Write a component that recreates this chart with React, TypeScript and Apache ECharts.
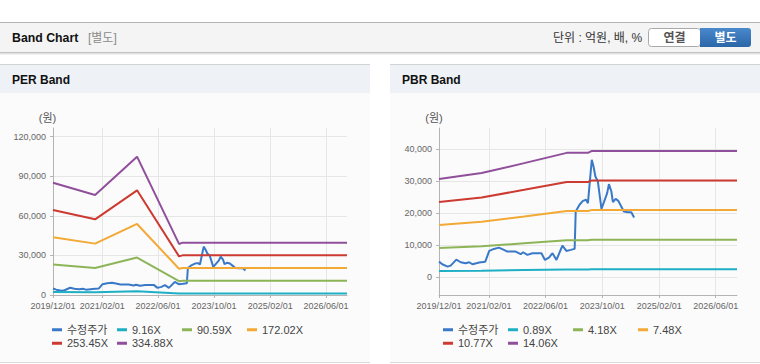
import React, { useEffect, useRef } from 'react';
import * as echarts from 'echarts';

const FONT = "Arial, 'Liberation Sans', 'Noto Sans CJK KR', sans-serif";

// 수정주가 (adjusted price), same series for both charts
const priceDates = [
  '2019-12-01', '2019-12-29', '2020-02-13', '2020-03-10', '2020-04-28', '2020-06-04', '2020-07-16',
  '2020-08-16', '2020-09-13', '2020-11-10', '2021-01-01', '2021-02-04', '2021-03-16', '2021-04-28',
  '2021-06-10', '2021-07-10', '2021-09-19', '2021-11-01', '2021-11-22', '2021-12-28', '2022-02-10',
  '2022-04-28', '2022-05-28', '2022-07-01', '2022-08-01', '2022-09-04', '2022-10-25', '2022-11-28',
  '2023-01-04', '2023-02-07', '2023-02-16', '2023-03-22', '2023-04-19', '2023-05-16', '2023-06-01',
  '2023-06-16', '2023-07-04', '2023-07-19', '2023-08-04', '2023-08-25', '2023-09-25', '2023-10-16',
  '2023-11-13', '2023-11-28', '2023-12-19', '2024-01-01', '2024-01-25', '2024-02-16', '2024-03-13',
  '2024-04-04', '2024-05-10', '2024-06-07', '2024-07-01',
];
const priceValues = [
  4875, 4060, 3310, 3625, 5500, 4690, 4375,
  4690, 4060, 4580, 4875, 8220, 8840, 9250,
  8540, 8000, 8000, 7190, 7810, 6980, 7500,
  7500, 5400, 6150, 7500, 5400, 9880, 8220,
  8540, 8850, 20500, 22700, 23840, 24160, 23120,
  29370, 36650, 34560, 31440, 29880, 21340, 23430,
  26250, 29060, 26750, 23430, 24470, 23840, 22070,
  20500, 20300, 20300, 18630,
];

// PER band
const perBandDates = ['2019-12-01', '2020-12-01', '2021-12-01', '2022-12-01', '2023-01-01', '2026-12-01'];
const perLabels = ['9.16X', '90.59X', '172.02X', '253.45X', '334.88X'];
const per916 = [2329, 2074, 2868, 1059, 1086, 1086];
const per9059 = [23037, 20511, 28364, 10472, 10740, 10740];
const per17202 = [43745, 38948, 53860, 19886, 20393, 20393];
const per25345 = [64452, 57385, 79356, 29299, 30046, 30046];
const per33488 = [85150, 75830, 104850, 38710, 39700, 39700];

// PBR band
const pbrBandDates = ['2019-12-01', '2020-12-01', '2021-12-01', '2022-12-01', '2023-06-01', '2023-07-01', '2026-12-01'];
const pbrLabels = ['0.89X', '4.18X', '7.48X', '10.77X', '14.06X'];
const pbr089 = [1938, 2057, 2253, 2456, 2456, 2492, 2492];
const pbr418 = [9104, 9662, 10584, 11537, 11537, 11704, 11704];
const pbr748 = [16291, 17290, 18939, 20645, 20645, 20944, 20944];
const pbr1077 = [23457, 24895, 27270, 29725, 29725, 30156, 30156];
const pbr1406 = [30620, 32500, 35600, 38806, 38806, 39368, 39368];

// ticks
const xTickDates = ['2019-12-01', '2021-02-01', '2022-06-01', '2023-10-01', '2025-02-01', '2026-06-01'];
const xStart = '2019-12-01';
const xEnd = '2026-12-01';
const perYTicks = [0, 30000, 60000, 90000, 120000];
const pbrYTicks = [0, 10000, 20000, 30000, 40000];

const PRICE_NAME = '수정주가';
const priceColor = '#3a79c8';
const bandColors = ['#1eafc5', '#8db558', '#f2a935', '#cc3a31', '#904f9b'];

function ts(s: string): number {
  const [y, m, d] = s.split('-').map(Number);
  return Date.UTC(y, m - 1, d);
}
function fmtDate(v: number): string {
  const d = new Date(v);
  const p = (n: number) => String(n).padStart(2, '0');
  return `${d.getUTCFullYear()}/${p(d.getUTCMonth() + 1)}/${p(d.getUTCDate())}`;
}

const AXIS_COLOR = '#b4b4b4';
const SPLIT_COLOR = '#e6e6e6';

function xAxis(gi: number) {
  const ticks = xTickDates.map(ts);
  return {
    type: 'value',
    gridIndex: gi,
    min: ts(xStart),
    max: ts(xEnd),
    axisLine: { show: true, onZero: false, lineStyle: { color: AXIS_COLOR, width: 1 } },
    axisTick: { show: true, length: 3, customValues: ticks, lineStyle: { color: AXIS_COLOR } },
    axisLabel: {
      customValues: ticks,
      formatter: (v: number) => fmtDate(v),
      fontSize: 9,
      color: '#666',
      margin: 6,
      fontFamily: FONT,
    },
    splitLine: { show: true, lineStyle: { color: SPLIT_COLOR, width: 1 } },
  };
}

function yAxis(gi: number, min: number, max: number, ticks: number[]) {
  return {
    type: 'value',
    gridIndex: gi,
    min,
    max,
    axisLine: { show: true, lineStyle: { color: AXIS_COLOR, width: 1 } },
    axisTick: { show: true, length: 3, customValues: ticks, lineStyle: { color: AXIS_COLOR } },
    axisLabel: {
      customValues: ticks,
      formatter: (v: number) => Number(v).toLocaleString('en-US'),
      fontSize: 9,
      color: '#666',
      margin: 7,
      fontFamily: FONT,
    },
    splitLine: { show: true, lineStyle: { color: SPLIT_COLOR, width: 1 } },
  };
}

function line(name: string, dates: string[], values: number[], color: string, gi: number) {
  return {
    type: 'line',
    name,
    xAxisIndex: gi,
    yAxisIndex: gi,
    data: dates.map((d, i) => [ts(d), values[i]]),
    showSymbol: false,
    symbol: 'none',
    color,
    lineStyle: { color, width: 2 },
    emphasis: { disabled: true },
    silent: true,
  };
}

function legend(left: number, names: string[]) {
  return {
    data: names,
    left,
    top: 323,
    width: 270,
    padding: 0,
    itemGap: 0,
    icon: 'rect',
    itemWidth: 10,
    itemHeight: 3,
    selectedMode: false,
    textStyle: { fontSize: 11, color: '#444', width: 50, lineHeight: 13.5, fontFamily: FONT },
  };
}

function txt(x: number, y: number, text: string, opts: any = {}) {
  return {
    type: 'text',
    x,
    y,
    silent: true,
    style: {
      text,
      fill: opts.fill || '#111',
      fontSize: opts.fontSize || 12,
      fontWeight: opts.fontWeight || 'normal',
      fontFamily: FONT,
      align: opts.align || 'left',
      verticalAlign: 'middle',
    },
  };
}
function rect(x: number, y: number, w: number, h: number, fill: any, extra: any = {}) {
  return {
    type: 'rect',
    silent: true,
    shape: { x, y, width: w, height: h, r: extra.r || 0 },
    style: { fill, stroke: extra.stroke || null, lineWidth: extra.lineWidth || 0 },
  };
}

function panel(x: number, title: string) {
  return [
    rect(x, 64, 370, 1, '#d2d2d2'),
    rect(x, 65, 370, 28, '#eef2f7'),
    rect(x, 93, 370, 269, '#fbfbfb'),
    rect(x, 362, 370, 1, '#dadada'),
    txt(x + 12, 79.5, title, { fontSize: 12, fontWeight: 'bold' }),
  ];
}

export default function App() {
  const ref = useRef<HTMLDivElement>(null);

  useEffect(() => {
    if (!ref.current) return;
    const chart = echarts.init(ref.current, null, { renderer: 'svg' });

    const blueGrad = new echarts.graphic.LinearGradient(0, 0, 0, 1, [
      { offset: 0, color: '#4a89cc' },
      { offset: 1, color: '#2a66a8' },
    ]);

    const graphics: any[] = [
      rect(0, 22, 760, 1, '#b4b4b4'),
      rect(0, 23, 760, 29, '#f4f4f4'),
      rect(0, 52, 760, 1, '#c2c2c2'),
      rect(0, 53, 760, 1, '#e2e2e2'),
      rect(0, 54, 760, 1, '#f1f1f1'),
      txt(12, 38, 'Band Chart', { fontSize: 12.3, fontWeight: 'bold' }),
      txt(88, 38, '[별도]', { fontSize: 12, fill: '#8a8a8a' }),
      txt(553, 38, '단위 : 억원, 배, %', { fontSize: 12, fill: '#333' }),
      rect(648.5, 28.5, 52, 18, '#ffffff', { r: 3, stroke: '#a9a9a9', lineWidth: 1 }),
      txt(674.5, 38, '연결', { fontSize: 12, fontWeight: 'bold', fill: '#555', align: 'center' }),
      rect(700, 28, 51, 19, blueGrad, { r: [0, 3, 3, 0] }),
      txt(725.5, 38, '별도', { fontSize: 12, fontWeight: 'bold', fill: '#ffffff', align: 'center' }),
      ...panel(0, 'PER Band'),
      ...panel(390, 'PBR Band'),
      txt(47.5, 117.5, '(원)', { fontSize: 11, fill: '#555', align: 'center' }),
      txt(434, 117.5, '(원)', { fontSize: 11, fill: '#555', align: 'center' }),
    ];

    const perSets = [per916, per9059, per17202, per25345, per33488];
    const pbrSets = [pbr089, pbr418, pbr748, pbr1077, pbr1406];

    const series: any[] = [
      line(PRICE_NAME, priceDates, priceValues, priceColor, 0),
      ...perSets.map((vals, i) => line(perLabels[i], perBandDates, vals, bandColors[i], 0)),
      line(PRICE_NAME, priceDates, priceValues, priceColor, 1),
      ...pbrSets.map((vals, i) => line(pbrLabels[i], pbrBandDates, vals, bandColors[i], 1)),
    ];

    chart.setOption({
      animation: false,
      textStyle: { fontFamily: FONT },
      graphic: { elements: graphics },
      grid: [
        {
          left: 53, top: 128, width: 294, height: 167,
          show: true, borderColor: AXIS_COLOR, borderWidth: 1, backgroundColor: '#ffffff',
          containLabel: false, outerBoundsMode: 'none',
        },
        {
          left: 439, top: 128, width: 298, height: 167,
          show: true, borderColor: AXIS_COLOR, borderWidth: 1, backgroundColor: '#ffffff',
          containLabel: false, outerBoundsMode: 'none',
        },
      ],
      xAxis: [xAxis(0), xAxis(1)],
      yAxis: [yAxis(0, 0, 126600, perYTicks), yAxis(1, -5530, 46560, pbrYTicks)],
      legend: [legend(52, [PRICE_NAME, ...perLabels]), legend(443, [PRICE_NAME, ...pbrLabels])],
      series,
    });

    return () => chart.dispose();
  }, []);

  return (
    <div style={{ position: 'absolute', left: 0, top: 0, width: 760, height: 364, background: '#fff' }}>
      <div ref={ref} style={{ width: 760, height: 364 }} />
    </div>
  );
}
